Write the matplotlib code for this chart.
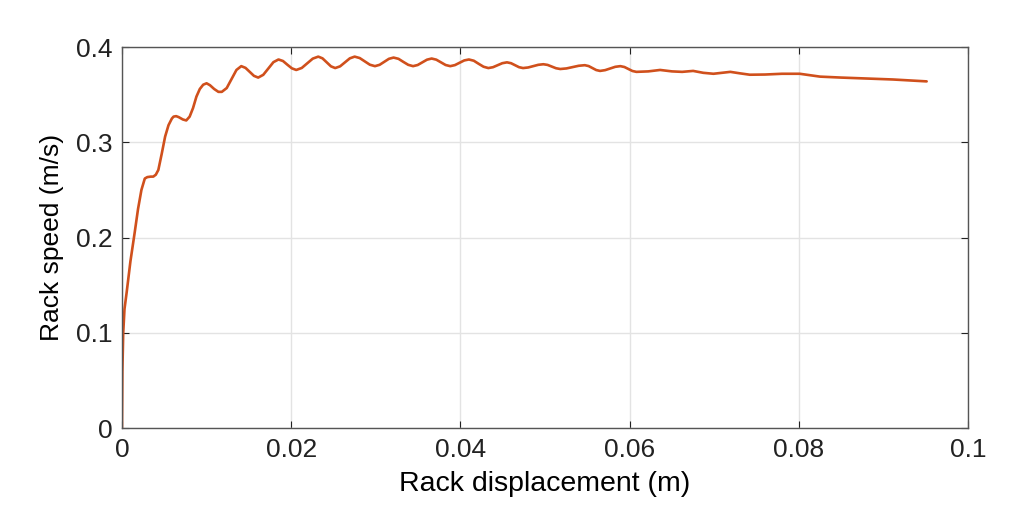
#!/usr/bin/env python3
import matplotlib
matplotlib.use('Agg')
import matplotlib.pyplot as plt

# values (peaks, dips and points between them)
displacement = [
    0.0, 0.00005, 0.00015, 0.0003, 0.00055, 0.001, 0.0015, 0.0019, 0.0023,
    0.0027, 0.0030, 0.0034, 0.0037, 0.0040, 0.0043, 0.0047, 0.0051, 0.0055,
    0.0059, 0.0061, 0.0064, 0.0067, 0.0072, 0.0076, 0.0080, 0.0084, 0.0088,
    0.0092, 0.0096, 0.0100, 0.0104, 0.0109, 0.0114, 0.0118,
    0.01238, 0.01295, 0.01353, 0.0141,
    0.0146, 0.0151, 0.0156, 0.0161,
    0.0167, 0.0173, 0.0179, 0.0185,
    0.01903, 0.01955, 0.02008, 0.0206,
    0.02125, 0.0219, 0.02255, 0.0232,
    0.0237, 0.0242, 0.0247, 0.0252,
    0.02578, 0.02635, 0.02693, 0.0275,
    0.0281, 0.0287, 0.0293, 0.0299,
    0.03045, 0.0310, 0.03155, 0.0321,
    0.03268, 0.03325, 0.03383, 0.0344,
    0.03495, 0.0355, 0.03605, 0.0366,
    0.03715, 0.0377, 0.03825, 0.0388,
    0.03935, 0.0399, 0.04045, 0.0410,
    0.04158, 0.04215, 0.04273, 0.0433,
    0.04385, 0.0444, 0.04495, 0.0455,
    0.04598, 0.04645, 0.04693, 0.0474,
    0.0480, 0.0486, 0.0492, 0.0498,
    0.0503, 0.0508, 0.0513, 0.0518,
    0.05253, 0.05325, 0.05398, 0.0547,
    0.05515, 0.0556, 0.05605, 0.0565,
    0.0571, 0.0577, 0.0583, 0.0589,
    0.05938, 0.05985, 0.06033, 0.0608,
    0.0622, 0.0636, 0.0650, 0.0662, 0.0675, 0.0687, 0.0699, 0.0709,
    0.0719, 0.0730, 0.0742, 0.0760, 0.0780, 0.0801, 0.0813, 0.0825,
    0.0850, 0.0880, 0.0911, 0.0930, 0.0951,
]
speed = [
    0.0, 0.06, 0.10, 0.125, 0.142, 0.175, 0.205, 0.23, 0.25,
    0.262, 0.2635, 0.264, 0.264, 0.266, 0.271, 0.288, 0.306, 0.318,
    0.325, 0.327, 0.3275, 0.3265, 0.324, 0.323, 0.327, 0.336, 0.348,
    0.356, 0.3605, 0.362, 0.360, 0.356, 0.353, 0.353,
    0.357, 0.3665, 0.376, 0.380,
    0.3782, 0.374, 0.3698, 0.368,
    0.3709, 0.3775, 0.3842, 0.387,
    0.3854, 0.3815, 0.3777, 0.376,
    0.3781, 0.383, 0.3879, 0.390,
    0.3882, 0.384, 0.3798, 0.378,
    0.3798, 0.384, 0.3882, 0.390,
    0.3885, 0.385, 0.3815, 0.380,
    0.3814, 0.3845, 0.3877, 0.389,
    0.3877, 0.3845, 0.3814, 0.380,
    0.3812, 0.384, 0.3868, 0.388,
    0.3868, 0.384, 0.3812, 0.380,
    0.3811, 0.3835, 0.386, 0.387,
    0.3857, 0.3825, 0.3794, 0.378,
    0.3789, 0.381, 0.3831, 0.384,
    0.3831, 0.381, 0.3789, 0.378,
    0.3786, 0.380, 0.3814, 0.382,
    0.3813, 0.3795, 0.3778, 0.377,
    0.3776, 0.379, 0.3804, 0.381,
    0.3801, 0.378, 0.3759, 0.375,
    0.3758, 0.3775, 0.3793, 0.380,
    0.3791, 0.377, 0.3749, 0.374,
    0.3745, 0.376, 0.3745, 0.374, 0.375, 0.373, 0.372, 0.373,
    0.374, 0.3725, 0.371, 0.3712, 0.372, 0.372, 0.3705, 0.369,
    0.3680, 0.367, 0.366, 0.365, 0.364,
]
x_ticks = [0, 0.02, 0.04, 0.06, 0.08, 0.1]
x_labels = ['0', '0.02', '0.04', '0.06', '0.08', '0.1']
y_ticks = [0, 0.1, 0.2, 0.3, 0.4]
y_labels = ['0', '0.1', '0.2', '0.3', '0.4']

plt.rcParams['font.family'] = ['Liberation Sans', 'DejaVu Sans']

fig = plt.figure(figsize=(10.18, 5.12), dpi=100)
ax = fig.add_axes([0.1198, 0.164, 0.8312, 0.744])

ax.plot(displacement, speed, color='#D0501C', linewidth=1.9,
        solid_joinstyle='round', solid_capstyle='round')

ax.set_xlim(0, 0.1)
ax.set_ylim(0, 0.4)
ax.set_xticks(x_ticks)
ax.set_xticklabels(x_labels)
ax.set_yticks(y_ticks)
ax.set_yticklabels(y_labels)
ax.grid(True, color='#e3e3e3', linewidth=1.0)
ax.set_axisbelow(True)
ax.tick_params(direction='in', top=True, right=True, length=5,
               labelsize=19, colors='#222222')
ax.tick_params(axis='x', pad=7)
ax.tick_params(axis='y', pad=7)
for sp in ax.spines.values():
    sp.set_color('#555555')
    sp.set_linewidth(1.0)

ax.set_xlabel('Rack displacement (m)', fontsize=20.5, labelpad=7)
ax.set_ylabel('Rack speed (m/s)', fontsize=19, labelpad=8)

fig.savefig('out.png', dpi=100)
